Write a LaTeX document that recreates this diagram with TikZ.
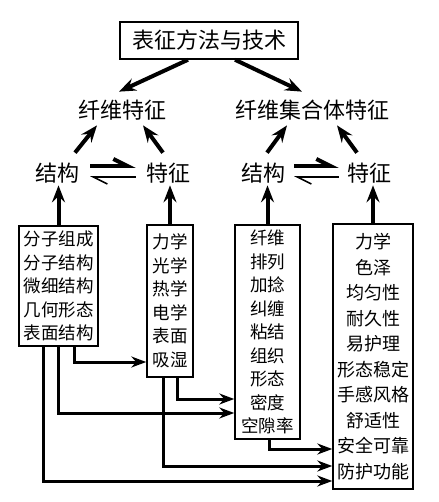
\documentclass[tikz,border=0pt]{standalone}
\usepackage{fontspec}
\newfontfamily\cjk{Noto Sans CJK SC}
\usepackage{tikz}
\usetikzlibrary{arrows.meta}
\usetikzlibrary{calc}
\tikzstyle{link} = [line width = 3pt, -{Stealth[length = 15pt, width = 11pt, inset = 5pt]}]
\tikzstyle{bigarrow} = [line width = 4pt, -{Stealth[length = 17pt, width = 13pt, inset = 6pt]}]

\begin{document}
\begin{tikzpicture}[x = 1pt, y = -1pt]
		% 变量
		\pgfmathsetmacro{\hd}{22}
		\pgfmathsetmacro{\it}{17.5}
		\pgfmathsetmacro{\up}{7}
		% 样式
		\tikzstyle{title} = [draw = black, line width = 1.5pt, minimum width = 178pt, minimum height = 37pt, font = \cjk\fontsize{\hd}{26}\selectfont]
		\tikzstyle{head} = [inner sep = 2pt, font = \cjk\fontsize{\hd}{26}\selectfont]
		\tikzstyle{itembox} = [draw = black, line width = 1.5pt, align = center, inner sep = 0pt, font = \cjk\fontsize{\it}{23.5}\selectfont]
		\tikzstyle{harpoon>} = [line width = 4pt, -{Straight Barb[left, length = 14pt, width = 14pt]}]
		\tikzstyle{harpoon<} = [line width = 1.5pt, -{Straight Barb[left, length = 14pt, width = 14pt]}]
		\useasboundingbox (0, 0) rectangle (438, 502);
		% 标题与特征
		\node[title] (method) at (209, 40.5) {表征方法与技术};
		\node[head] (fiber) at (122, 110) {纤维特征};
		\node[head] (assembly) at (312, 110) {纤维集合体特征};
		\node[head] (fs) at (57, 173) {结构};
		\node[head] (fp) at (168, 173) {特征};
		\node[head] (as) at (263, 173) {结构};
		\node[head] (ap) at (369, 173) {特征};
		% 方框
		\node[itembox, minimum width = 79pt, minimum height = 120pt] (fsbox) at (58.5, 286) {分子组成\\分子结构\\微细结构\\几何形态\\表面结构};
		\node[itembox, minimum width = 46pt, minimum height = 152pt] (fpbox) at (170, 301) {力学\\光学\\热学\\电学\\表面\\吸湿};
		\node[itembox, minimum width = 65pt, minimum height = 214pt] (asbox) at (267.5, 332) {纤维\\排列\\加捻\\纠缠\\粘结\\组织\\形态\\密度\\空隙率};
		\node[itembox, minimum width = 80pt, minimum height = 265pt, font = \cjk\fontsize{18}{25.5}\selectfont] (apbox) at (373, 356.5) {力学\\色泽\\均匀性\\耐久性\\易护理\\形态稳定\\手感风格\\舒适性\\安全可靠\\防护功能};
		% 上部箭头
		\draw[bigarrow] ([xshift = -21pt]method.south) -- ([xshift = -3pt, yshift = 6pt]fiber.north);
		\draw[bigarrow] ([xshift = 26pt]method.south) -- ([xshift = -10pt, yshift = 6pt]assembly.north);
		\draw[bigarrow] ([xshift = 18pt, yshift = 8pt]fs.north) -- ([xshift = -25pt, yshift = -3pt]fiber.south);
		\draw[bigarrow] ([xshift = -5pt, yshift = 8pt]fp.north) -- ([xshift = 21pt, yshift = -3pt]fiber.south);
		\draw[bigarrow] ([xshift = 4pt, yshift = 8pt]as.north) -- ([xshift = -25pt, yshift = -3pt]assembly.south);
		\draw[bigarrow] ([xshift = -12pt, yshift = 8pt]ap.north) -- ([xshift = 25pt, yshift = -3pt]assembly.south);
		% 可逆箭头
		\draw[harpoon>] ([xshift = 9pt, yshift = \up pt]fs.east) -- ([xshift = -8pt, yshift = \up pt]fp.west);
		\draw[harpoon<] ([xshift = -8pt, yshift = -4pt]fp.west) -- ([xshift = 9pt, yshift = -4pt]fs.east);
		\draw[harpoon>] ([xshift = 7pt, yshift = \up pt]as.east) -- ([xshift = -6pt, yshift = \up pt]ap.west);
		\draw[harpoon<] ([xshift = -6pt, yshift = -4pt]ap.west) -- ([xshift = 7pt, yshift = -4pt]as.east);
		% 竖直箭头
		\draw[bigarrow] (fsbox.north) -- (fsbox.north |- fs.south);
		\draw[bigarrow] (fpbox.north) -- (fpbox.north |- fp.south);
		\draw[bigarrow] (asbox.north) -- (asbox.north |- as.south);
		\draw[bigarrow] (apbox.north) -- (apbox.north |- ap.south);
		% 下部连接线
		\draw[link] ([xshift = 15.5pt]fsbox.south) |- (fpbox.west |- 0, 362);
		\draw[link] ([xshift = 7pt]fpbox.south) |- (asbox.west |- 0, 399);
		\draw[link] (fsbox.south) |- (asbox.west |- 0, 413);
		\draw[link] ([xshift = 1.5pt]asbox.south) |- (apbox.west |- 0, 449);
		\draw[link] ([xshift = -7pt]fpbox.south) |- (apbox.west |- 0, 466);
		\draw[link] ([xshift = -15.5pt]fsbox.south) |- (apbox.west |- 0, 481);
	\end{tikzpicture}
\end{document}
